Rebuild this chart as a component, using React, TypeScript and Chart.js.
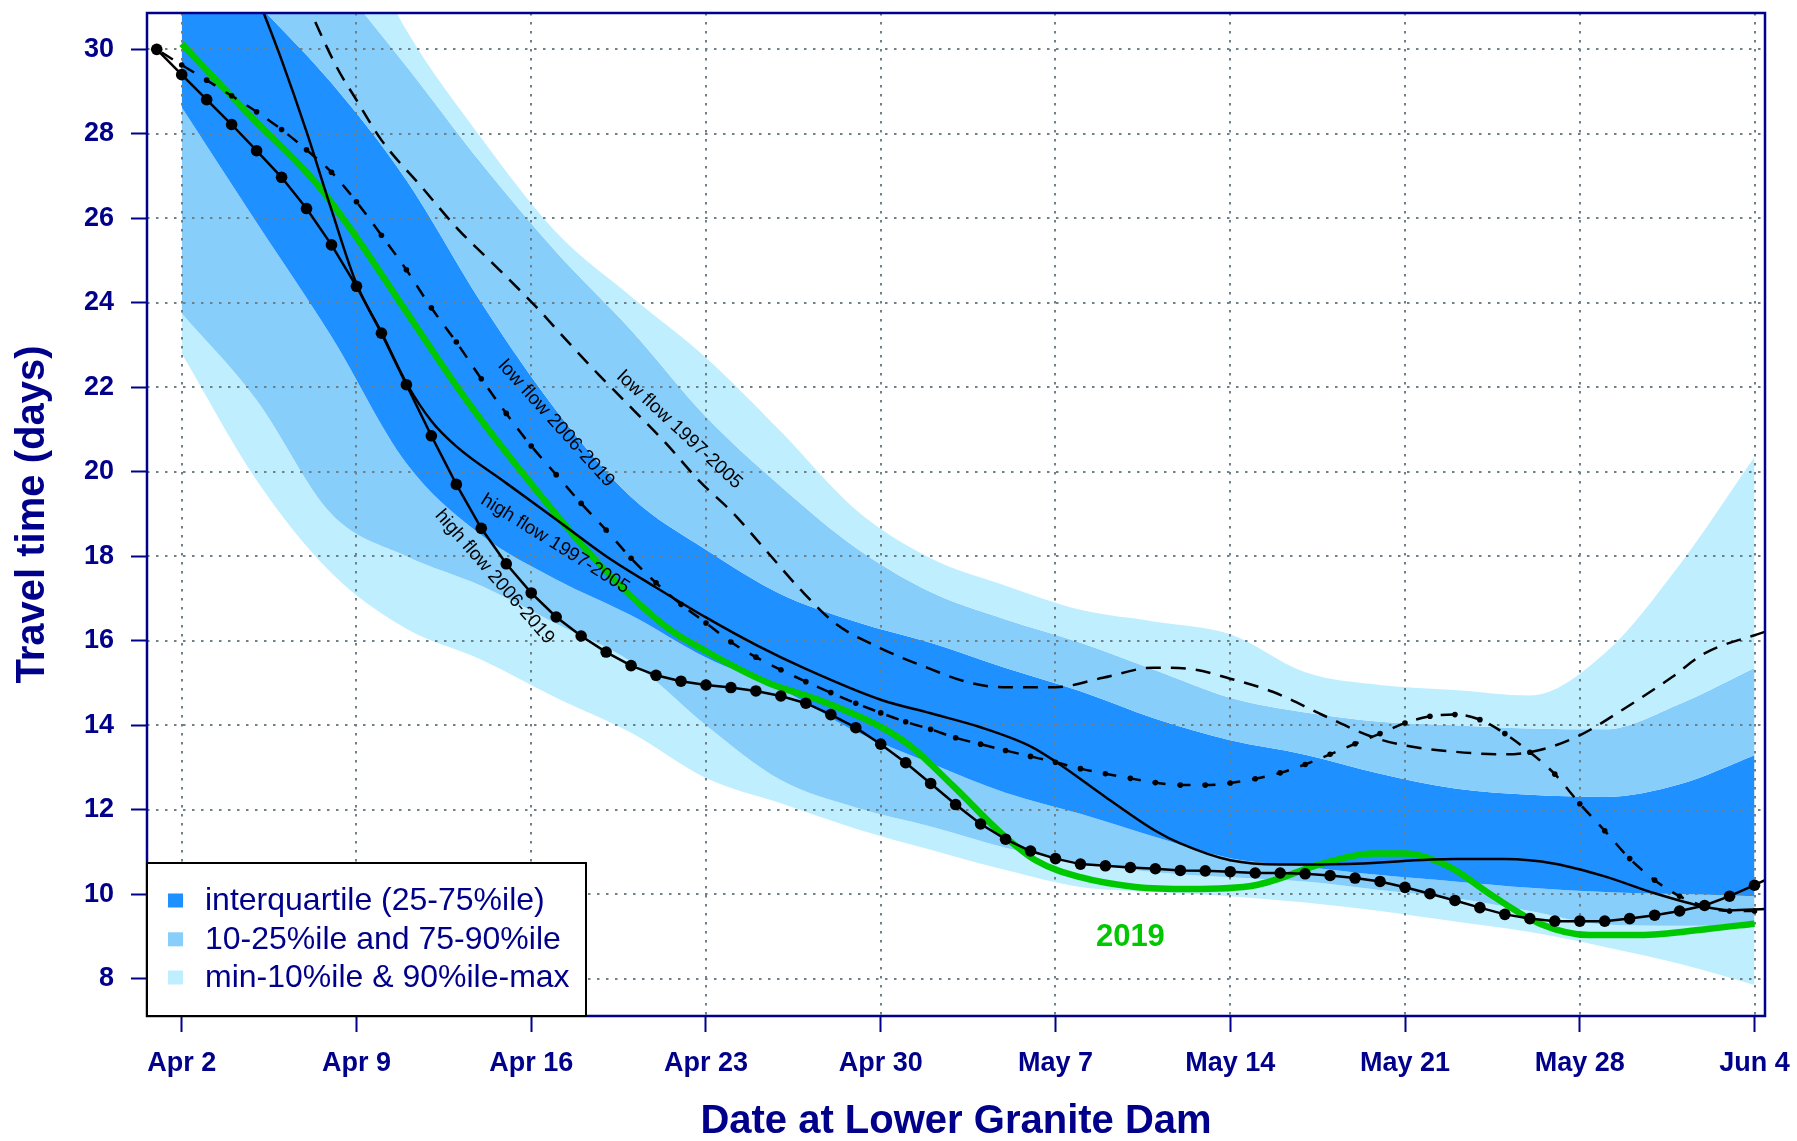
import React, { useEffect, useRef } from "react";
import { Chart, registerables } from "chart.js";

Chart.register(...registerables);

const NAVY = "#00008B";
const GRID = "#6F8089";
const DODGER = "#1E90FF";
const SKY = "#87CEFA";
const PALE = "#BFEFFF";
const GREEN = "#00C800";
const FONT = "'Liberation Sans', Arial, Helvetica, sans-serif";

// ---- axes ----
const xTickDays = [0, 7, 14, 21, 28, 35, 42, 49, 56, 63];
const xTickLabels = ["Apr 2", "Apr 9", "Apr 16", "Apr 23", "Apr 30", "May 7", "May 14", "May 21", "May 28", "Jun 4"];
const yTickValues = [8, 10, 12, 14, 16, 18, 20, 22, 24, 26, 28, 30];

// ---- percentile bands (day 0 = Apr 2) ----
const bandDays = [0, 3, 6, 9, 12, 15, 18, 21, 24, 27, 30, 33, 36, 39, 42, 45, 48, 51, 54, 57, 60, 63];
const bandMax = [40, 37, 33.9, 30.45, 27.9, 25.67, 24.15, 22.7, 20.95, 19.1, 17.95, 17.3, 16.73, 16.45, 16.15, 15.25, 14.95, 14.83, 14.7, 15.7, 17.8, 20.35];
const bandP90 = [36, 34, 31.8, 29.6, 27.3, 25.2, 23.35, 21.3, 19.65, 18.2, 17.15, 16.5, 15.95, 15.3, 14.65, 14.3, 14.08, 14.0, 13.92, 13.9, 14.5, 15.35];
const bandP75 = [33, 31.1, 29.2, 26.9, 24.0, 21.45, 19.4, 18.15, 17.1, 16.45, 15.95, 15.35, 14.8, 14.15, 13.64, 13.3, 12.85, 12.5, 12.35, 12.3, 12.6, 13.29];
const bandP25 = [28.63, 25.9, 23.2, 20.2, 18.5, 17.45, 16.6, 15.6, 14.85, 13.85, 13.1, 12.4, 11.9, 11.35, 10.85, 10.65, 10.45, 10.3, 10.15, 10.05, 10.0, 9.95];
const bandP10 = [23.75, 21.7, 19.0, 18.0, 17.3, 16.4, 15.5, 14.0, 12.7, 12.05, 11.6, 11.1, 10.75, 10.52, 10.4, 10.3, 10.1, 9.9, 9.6, 9.28, 9.25, 9.25];
const bandMin = [22.8, 19.8, 17.6, 16.28, 15.55, 14.65, 13.82, 12.75, 12.15, 11.55, 11.05, 10.57, 10.17, 10.05, 9.95, 9.8, 9.6, 9.35, 9.1, 8.75, 8.35, 7.85];

// ---- 2019 ----
const y2019Days = [0, 2.7, 5.4, 7, 8.7, 11.4, 14.1, 16.7, 19.4, 21, 23.5, 25.5, 28, 29.2, 30.9, 32.9, 34.2, 36, 38.2, 40.4, 43, 45.7, 47.7, 49, 50.8, 52.4, 54.4, 56.4, 58.4, 61.2, 63];
const y2019Values = [30.13, 28.45, 26.82, 25.55, 24.05, 21.7, 19.64, 17.83, 16.33, 15.75, 15.0, 14.6, 13.96, 13.5, 12.56, 11.4, 10.8, 10.4, 10.17, 10.12, 10.21, 10.72, 10.96, 10.96, 10.64, 10.0, 9.3, 9.03, 9.03, 9.18, 9.3];

// ---- high flow 2006-2019 (daily, with points) ----
const hi0619Days = [-1, 0, 1, 2, 3, 4, 5, 6, 7, 8, 9, 10, 11, 12, 13, 14, 15, 16, 17, 18, 19, 20, 21, 22, 23, 24, 25, 26, 27, 28, 29, 30, 31, 32, 33, 34, 35, 36, 37, 38, 39, 40, 41, 42, 43, 44, 45, 46, 47, 48, 49, 50, 51, 52, 53, 54, 55, 56, 57, 58, 59, 60, 61, 62, 63, 63.42];
const hi0619Values = [30.0, 29.4, 28.81, 28.22, 27.6, 26.97, 26.23, 25.37, 24.39, 23.28, 22.06, 20.85, 19.7, 18.66, 17.82, 17.13, 16.56, 16.11, 15.73, 15.41, 15.18, 15.04, 14.95, 14.89, 14.81, 14.69, 14.52, 14.25, 13.94, 13.55, 13.11, 12.62, 12.12, 11.66, 11.3, 11.02, 10.84, 10.71, 10.67, 10.63, 10.6, 10.56, 10.55, 10.53, 10.5, 10.5, 10.48, 10.44, 10.38, 10.3, 10.16, 10.01, 9.85, 9.68, 9.52, 9.42, 9.36, 9.36, 9.36, 9.42, 9.5, 9.6, 9.73, 9.95, 10.21, 10.33];

// ---- high flow 1997-2005 (solid) ----
const hi9705Days = [0, 2, 3, 4, 5, 6, 7, 8, 9, 10, 11, 13, 15, 17, 19, 21, 23, 25, 28, 30, 32, 34, 35, 37, 39, 40, 42, 44, 47, 51, 53, 55, 57, 59, 61, 62, 63.42];
const hi9705Values = [36.0, 32.9, 31.3, 29.75, 28.05, 26.2, 24.45, 23.3, 22.1, 21.2, 20.6, 19.73, 18.87, 18.0, 17.26, 16.55, 15.9, 15.33, 14.6, 14.28, 13.95, 13.5, 13.14, 12.3, 11.5, 11.2, 10.8, 10.7, 10.72, 10.83, 10.83, 10.72, 10.42, 10.02, 9.7, 9.62, 9.65];

// ---- low flow 2006-2019 (dash-dot, daily) ----
const lo0619Days = [-1, 0, 1, 2, 3, 4, 5, 6, 7, 8, 9, 10, 11, 12, 13, 14, 15, 16, 17, 18, 19, 20, 21, 22, 23, 24, 25, 26, 27, 28, 29, 30, 31, 32, 33, 34, 35, 36, 37, 38, 39, 40, 41, 42, 43, 44, 45, 46, 47, 48, 49, 50, 51, 52, 53, 54, 55, 56, 57, 58, 59, 60, 61, 62, 63];
const lo0619Values = [30.0, 29.63, 29.27, 28.9, 28.52, 28.1, 27.62, 27.09, 26.39, 25.6, 24.78, 23.88, 23.07, 22.2, 21.38, 20.61, 19.93, 19.25, 18.62, 17.95, 17.37, 16.86, 16.42, 15.97, 15.61, 15.31, 15.03, 14.77, 14.52, 14.29, 14.08, 13.9, 13.7, 13.55, 13.4, 13.26, 13.12, 12.97, 12.85, 12.74, 12.64, 12.58, 12.58, 12.63, 12.73, 12.87, 13.07, 13.31, 13.56, 13.8, 14.05, 14.21, 14.25, 14.13, 13.8, 13.36, 12.84, 12.14, 11.5, 10.84, 10.33, 9.95, 9.71, 9.6, 9.6];

// ---- low flow 1997-2005 (dashed) ----
const lo9705Days = [0, 3, 5, 6.2, 7, 8, 9.6, 11.1, 12.6, 14.2, 15.4, 16.7, 18.1, 19.4, 20.7, 22.1, 23.4, 24.8, 26.2, 28, 29.6, 31.6, 32.9, 35, 36.9, 38.9, 40.4, 42, 43.7, 45.7, 47.7, 49, 51, 53, 54.4, 56, 57.7, 59.7, 61, 63.42];
const lo9705Values = [37.0, 33.7, 31.1, 29.59, 28.8, 27.85, 26.75, 25.72, 24.85, 23.9, 23.12, 22.3, 21.46, 20.67, 19.8, 19.01, 18.14, 17.2, 16.4, 15.82, 15.42, 15.0, 14.9, 14.9, 15.12, 15.36, 15.33, 15.1, 14.79, 14.24, 13.72, 13.52, 13.37, 13.31, 13.41, 13.76, 14.36, 15.14, 15.7, 16.21];

// ---- annotations ----
const lineLabelTexts = ["low flow 2006-2019", "low flow 1997-2005", "high flow 1997-2005", "high flow 2006-2019"];
const lineLabelDays = [15.0, 19.94, 14.96, 12.53];
const lineLabelValues = [21.14, 20.99, 18.29, 17.51];
const lineLabelAngles = [48, 43, 32, 49];
const yearLabel = "2019";
const yearLabelDay = 38.0;
const yearLabelValue = 8.98;

const legendLabels = ["interquartile (25-75%ile)", "10-25%ile and 75-90%ile", "min-10%ile & 90%ile-max"];
const legendColors = [DODGER, SKY, PALE];

const pts = (xs: number[], ys: number[]) => xs.map((x, i) => ({ x, y: ys[i] }));

const band = (ys: number[], color: string, fill: any) => ({
  data: pts(bandDays, ys),
  borderWidth: 0,
  borderColor: "rgba(0,0,0,0)",
  backgroundColor: color,
  pointRadius: 0,
  fill,
  cubicInterpolationMode: "monotone" as const,
});

const decorPlugin = {
  id: "decor",
  beforeDatasetsDraw(chart: any) {
    const { ctx, chartArea: a, scales } = chart;
    const x = scales.x;
    const y = scales.y;
    ctx.save();
    ctx.beginPath();
    ctx.rect(a.left, a.top, a.right - a.left, a.bottom - a.top);
    ctx.clip();
    ctx.strokeStyle = GRID;
    ctx.lineWidth = 2;
    ctx.setLineDash([2.5, 6.5]);
    xTickDays.forEach((d) => {
      const px = Math.round(x.getPixelForValue(d));
      ctx.beginPath();
      ctx.moveTo(px, a.top);
      ctx.lineTo(px, a.bottom);
      ctx.stroke();
    });
    yTickValues.forEach((v) => {
      const py = Math.round(y.getPixelForValue(v));
      ctx.beginPath();
      ctx.moveTo(a.left, py);
      ctx.lineTo(a.right, py);
      ctx.stroke();
    });
    ctx.restore();
  },
  afterDatasetsDraw(chart: any) {
    const { ctx, chartArea: a, scales } = chart;
    const x = scales.x;
    const y = scales.y;
    ctx.save();
    ctx.fillStyle = "#000";
    ctx.font = `19px ${FONT}`;
    ctx.textAlign = "center";
    ctx.textBaseline = "middle";
    lineLabelTexts.forEach((t, i) => {
      ctx.save();
      ctx.translate(x.getPixelForValue(lineLabelDays[i]), y.getPixelForValue(lineLabelValues[i]));
      ctx.rotate((lineLabelAngles[i] * Math.PI) / 180);
      ctx.fillText(t, 0, 0);
      ctx.restore();
    });
    ctx.fillStyle = GREEN;
    ctx.font = `bold 31px ${FONT}`;
    ctx.fillText(yearLabel, x.getPixelForValue(yearLabelDay), y.getPixelForValue(yearLabelValue));
    ctx.strokeStyle = NAVY;
    ctx.lineWidth = 2.5;
    ctx.setLineDash([]);
    ctx.strokeRect(a.left, a.top, a.right - a.left, a.bottom - a.top);
    ctx.restore();
  },
  afterDraw(chart: any) {
    const { ctx, chartArea: a } = chart;
    ctx.save();
    // legend
    const lw = 439;
    const lh = 153;
    const lx = a.left;
    const ly = a.bottom - lh;
    ctx.fillStyle = "#fff";
    ctx.fillRect(lx, ly, lw, lh);
    ctx.strokeStyle = "#000";
    ctx.lineWidth = 2;
    ctx.strokeRect(lx, ly, lw, lh);
    const rowY = [ly + 37.5, ly + 76.3, ly + 114.5];
    ctx.font = `32px ${FONT}`;
    ctx.textAlign = "left";
    ctx.textBaseline = "middle";
    legendLabels.forEach((t, i) => {
      ctx.fillStyle = legendColors[i];
      ctx.fillRect(lx + 21, rowY[i] - 7, 15, 14);
      ctx.fillStyle = NAVY;
      ctx.fillText(t, lx + 58, rowY[i] + 1);
    });
    // axis titles
    ctx.fillStyle = NAVY;
    ctx.font = `bold 40px ${FONT}`;
    ctx.textAlign = "center";
    ctx.textBaseline = "middle";
    ctx.fillText("Date at Lower Granite Dam", (a.left + a.right) / 2, 1122);
    ctx.save();
    ctx.translate(33, (a.top + a.bottom) / 2);
    ctx.rotate(-Math.PI / 2);
    ctx.fillText("Travel time (days)", 0, 0);
    ctx.restore();
    ctx.restore();
  },
};

export default function App() {
  const ref = useRef<HTMLCanvasElement>(null);
  useEffect(() => {
    if (!ref.current) return;
    const chart = new Chart(ref.current, {
      type: "line",
      data: {
        datasets: [
          {
            label: "high flow 2006-2019",
            data: pts(hi0619Days, hi0619Values),
            borderColor: "#000",
            backgroundColor: "#000",
            borderWidth: 2.5,
            pointRadius: hi0619Days.map((d) => (d > 63 ? 0 : 5.8)),
            pointBackgroundColor: "#000",
            pointBorderWidth: 0,
            tension: 0,
            fill: false,
          },
          {
            label: "high flow 1997-2005",
            data: pts(hi9705Days, hi9705Values),
            borderColor: "#000",
            borderWidth: 2.5,
            pointRadius: 0,
            cubicInterpolationMode: "monotone",
            fill: false,
          },
          {
            label: "low flow 2006-2019",
            data: pts(lo0619Days, lo0619Values),
            borderColor: "#000",
            backgroundColor: "#000",
            borderWidth: 2.5,
            borderDash: [13, 12],
            borderDashOffset: 19,
            pointRadius: 2.8,
            pointBackgroundColor: "#000",
            pointBorderWidth: 0,
            cubicInterpolationMode: "monotone",
            fill: false,
          },
          {
            label: "low flow 1997-2005",
            data: pts(lo9705Days, lo9705Values),
            borderColor: "#000",
            borderWidth: 2.5,
            borderDash: [15, 10],
            pointRadius: 0,
            cubicInterpolationMode: "monotone",
            fill: false,
          },
          {
            label: "2019",
            data: pts(y2019Days, y2019Values),
            borderColor: GREEN,
            borderWidth: 6.5,
            pointRadius: 0,
            cubicInterpolationMode: "monotone",
            fill: false,
          },
          band(bandMax, PALE, "+1"),
          band(bandP90, SKY, "+1"),
          band(bandP75, DODGER, "+1"),
          band(bandP25, SKY, "+1"),
          band(bandP10, PALE, "+1"),
          band(bandMin, PALE, false),
        ] as any,
      },
      options: {
        responsive: false,
        animation: false,
        events: [],
        layout: { padding: { top: 13, right: 32, left: 0, bottom: 0 } },
        plugins: {
          legend: { display: false },
          tooltip: { enabled: false },
          filler: { drawTime: "beforeDatasetsDraw" },
        } as any,
        scales: {
          x: {
            type: "linear",
            min: -1.39,
            max: 63.42,
            afterBuildTicks: (s: any) => {
              s.ticks = xTickDays.map((v) => ({ value: v }));
            },
            afterFit: (s: any) => {
              s.height = 125;
              s.paddingLeft = 0;
              s.paddingRight = 0;
            },
            ticks: {
              autoSkip: false,
              maxRotation: 0,
              padding: 15,
              color: NAVY,
              font: { family: FONT, size: 27, weight: "bold" },
              callback: (_v: any, i: number) => xTickLabels[i],
            },
            grid: {
              display: true,
              drawOnChartArea: false,
              drawTicks: true,
              tickLength: 16,
              tickColor: NAVY,
              tickWidth: 2,
            },
            border: { display: false },
          },
          y: {
            type: "linear",
            min: 7.114,
            max: 30.86,
            afterBuildTicks: (s: any) => {
              s.ticks = yTickValues.map((v) => ({ value: v }));
            },
            afterFit: (s: any) => {
              s.width = 147;
              s.paddingTop = 0;
              s.paddingBottom = 0;
            },
            ticks: {
              padding: 17,
              color: NAVY,
              font: { family: FONT, size: 27, weight: "bold" },
              callback: (v: any) => String(v),
            },
            grid: {
              display: true,
              drawOnChartArea: false,
              drawTicks: true,
              tickLength: 16,
              tickColor: NAVY,
              tickWidth: 2,
            },
            border: { display: false },
          },
        } as any,
      },
      plugins: [decorPlugin],
    });
    return () => chart.destroy();
  }, []);
  return (
    <div style={{ position: "fixed", left: 0, top: 0, width: 1797, height: 1141, background: "#fff" }}>
      <canvas ref={ref} width={1797} height={1141} style={{ display: "block", width: 1797, height: 1141 }} />
    </div>
  );
}
